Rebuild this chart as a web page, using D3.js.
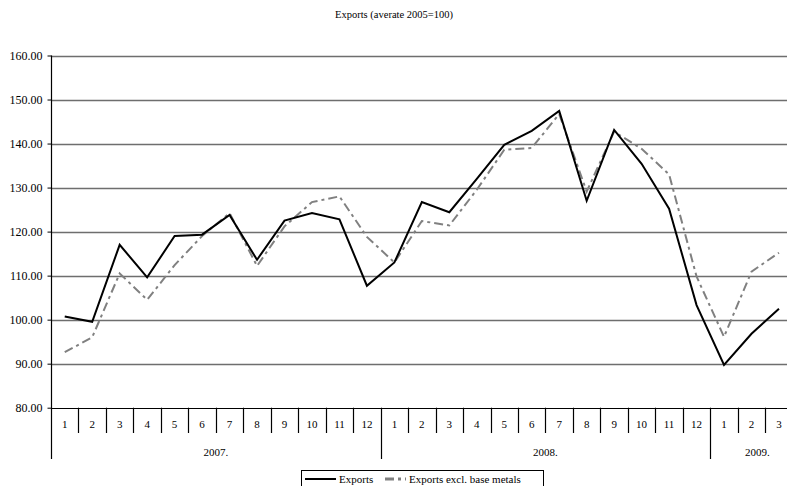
<!DOCTYPE html>
<html>
<head>
<meta charset="utf-8">
<script src="https://cdn.jsdelivr.net/npm/d3@7"></script>
<style>
    body { margin: 0; background: #fff; }
    text { font-family: "Liberation Serif", "Times New Roman", serif; fill: #000; }
</style>
</head>
<body>
<div class="chart"></div>
<script>
// Data
let monthLabels = ["1", "2", "3", "4", "5", "6", "7", "8", "9", "10", "11", "12",
    "1", "2", "3", "4", "5", "6", "7", "8", "9", "10", "11", "12",
    "1", "2", "3"];
let yearLabels = ["2007.", "2008.", "2009."];
let yearCounts = [12, 12, 3];

let exportsData = [100.7, 99.5, 117.0, 109.6, 119.0, 119.3, 123.8, 113.6, 122.5, 124.2, 122.8, 107.7,
    113.0, 126.7, 124.4, 132.0, 139.7, 142.9, 147.4, 127.0, 143.1, 135.4, 125.2, 103.3,
    89.7, 96.8, 102.5];
let exclMetalsData = [92.6, 96.0, 110.5, 104.5, 112.4, 119.0, 124.2, 112.2, 121.2, 126.7, 128.0, 118.8,
    113.0, 122.4, 121.4, 129.5, 138.6, 139.0, 146.7, 129.1, 142.7, 138.8, 133.0, 109.8,
    96.1, 110.9, 115.2];

let yTicks = [80, 90, 100, 110, 120, 130, 140, 150, 160];

// Layout
let svgWidth = 787;
let svgHeight = 486;
let plotLeft = 51;
let plotRight = 792.7;
let plotTop = 55.5;
let plotBottom = 407.7;

let svg = d3.select(".chart")
    .append("svg")
    .attr("width", svgWidth)
    .attr("height", svgHeight);

let xScale = d3.scaleBand()
    .domain(d3.range(monthLabels.length))
    .range([plotLeft, plotRight])
    .paddingInner(0)
    .paddingOuter(0);

let yScale = d3.scaleLinear()
    .domain([80, 160])
    .range([plotBottom, plotTop]);

// Title
svg.append("text")
    .attr("x", 394)
    .attr("y", 18)
    .attr("text-anchor", "middle")
    .style("font-size", "10.5px")
    .text("Exports (averate 2005=100)");

// Gridlines
svg.append("g")
    .selectAll("line")
    .data(yTicks.filter(d => d > 80))
    .enter()
    .append("line")
    .attr("x1", plotLeft)
    .attr("x2", plotRight)
    .attr("y1", d => Math.round(yScale(d)) + 0.5)
    .attr("y2", d => Math.round(yScale(d)) + 0.5)
    .attr("stroke", "#6e6e6e")
    .attr("stroke-width", 1.3);

// Y axis
let leftAxis = d3.axisLeft(yScale)
    .tickValues(yTicks)
    .tickFormat(d3.format(".2f"))
    .tickSize(4)
    .tickSizeOuter(0);

let yAxis = svg.append("g")
    .attr("transform", `translate(${plotLeft + 0.5}, 0)`)
    .call(leftAxis);
yAxis.select(".domain").remove();
yAxis.selectAll("line").attr("stroke", "#000");
yAxis.selectAll("text")
    .attr("x", -9)
    .style("font-size", "12px")
    .style("font-family", "Liberation Serif, serif");

// Y axis line down to the year row
svg.append("line")
    .attr("x1", plotLeft + 0.5)
    .attr("x2", plotLeft + 0.5)
    .attr("y1", plotTop)
    .attr("y2", 459)
    .attr("stroke", "#000")
    .attr("stroke-width", 1.2);

// X axis line
svg.append("line")
    .attr("x1", plotLeft)
    .attr("x2", plotRight)
    .attr("y1", Math.round(plotBottom) + 0.5)
    .attr("y2", Math.round(plotBottom) + 0.5)
    .attr("stroke", "#000")
    .attr("stroke-width", 1.2);

// Month separators and labels
let yearStarts = yearCounts.map((c, i) => d3.sum(yearCounts.slice(0, i)));

svg.append("g")
    .selectAll("line")
    .data(d3.range(1, monthLabels.length + 1))
    .enter()
    .append("line")
    .attr("x1", d => Math.round(xScale(d - 1) + xScale.bandwidth()) + 0.5)
    .attr("x2", d => Math.round(xScale(d - 1) + xScale.bandwidth()) + 0.5)
    .attr("y1", plotBottom)
    .attr("y2", d => yearStarts.includes(d) ? 459 : 433)
    .attr("stroke", "#000")
    .attr("stroke-width", 1.2);

svg.append("g")
    .selectAll("text")
    .data(monthLabels)
    .enter()
    .append("text")
    .attr("x", (d, i) => xScale(i) + xScale.bandwidth() / 2)
    .attr("y", 428)
    .attr("text-anchor", "middle")
    .style("font-size", "11px")
    .text(d => d);

svg.append("g")
    .selectAll("text")
    .data(yearLabels)
    .enter()
    .append("text")
    .attr("x", (d, i) => {
        let x0 = xScale(yearStarts[i]);
        let x1 = xScale(yearStarts[i] + yearCounts[i] - 1) + xScale.bandwidth();
        return (x0 + x1) / 2 + (i === 2 ? 6 : 0);
    })
    .attr("y", 456)
    .attr("text-anchor", "middle")
    .style("font-size", "11px")
    .text(d => d);

// Lines
let lineGen = d3.line()
    .x((d, i) => xScale(i) + xScale.bandwidth() / 2)
    .y(d => yScale(d));

svg.append("path")
    .datum(exclMetalsData)
    .attr("fill", "none")
    .attr("stroke", "#808080")
    .attr("stroke-width", 2)
    .attr("stroke-dasharray", "9,4,3,4")
    .attr("d", lineGen);

svg.append("path")
    .datum(exportsData)
    .attr("fill", "none")
    .attr("stroke", "#000")
    .attr("stroke-width", 2)
    .attr("stroke-linejoin", "miter")
    .attr("d", lineGen);

// Legend
let legend = svg.append("g");

legend.append("rect")
    .attr("x", 301.5)
    .attr("y", 470.5)
    .attr("width", 242)
    .attr("height", 22)
    .attr("fill", "#fff")
    .attr("stroke", "#000")
    .attr("stroke-width", 1);

legend.append("line")
    .attr("x1", 305)
    .attr("x2", 336)
    .attr("y1", 479)
    .attr("y2", 479)
    .attr("stroke", "#000")
    .attr("stroke-width", 2);

legend.append("text")
    .attr("x", 339)
    .attr("y", 483)
    .style("font-size", "11px")
    .text("Exports");

legend.append("line")
    .attr("x1", 385)
    .attr("x2", 406)
    .attr("y1", 479)
    .attr("y2", 479)
    .attr("stroke", "#808080")
    .attr("stroke-width", 3)
    .attr("stroke-dasharray", "9,4,3,4");

legend.append("text")
    .attr("x", 409)
    .attr("y", 483)
    .style("font-size", "11px")
    .text("Exports excl. base metals");
</script>
</body>
</html>
